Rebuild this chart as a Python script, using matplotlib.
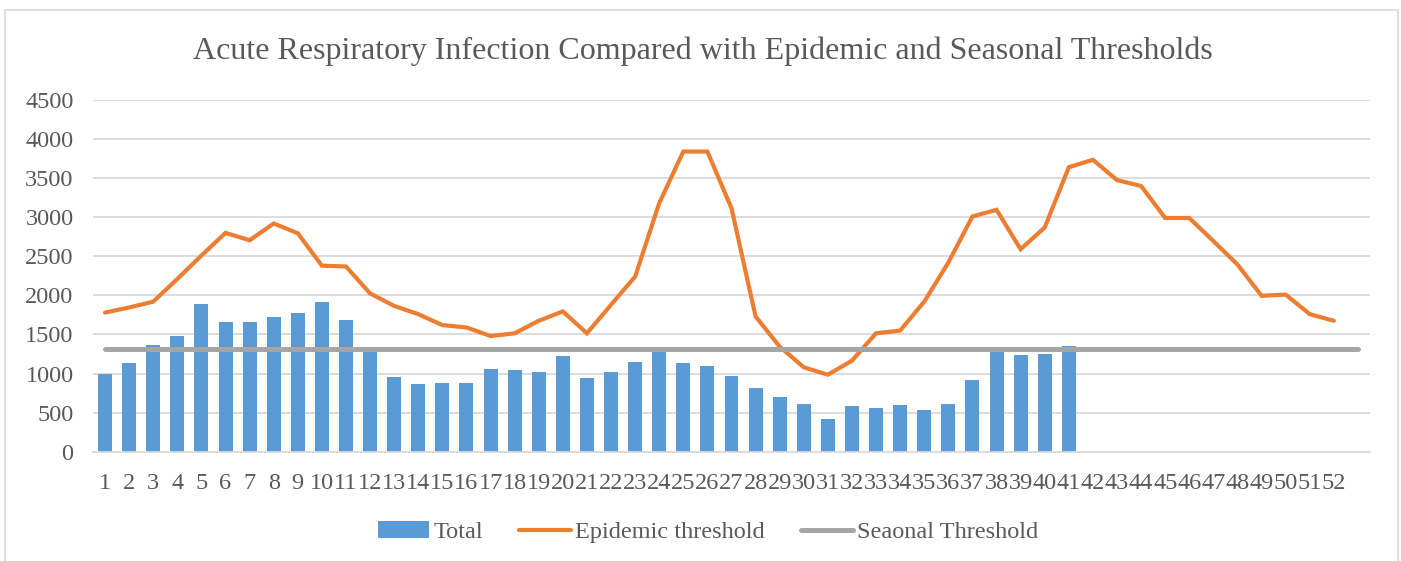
import matplotlib
matplotlib.use("Agg")
import matplotlib.pyplot as plt
from matplotlib.patches import Rectangle

# ---- data ----
weeks = [str(i) for i in range(1, 53)] + [""]
total = [1000, 1130, 1360, 1475, 1895, 1665, 1660, 1725, 1770, 1920,
         1690, 1300, 950, 860, 875, 875, 1060, 1050, 1025, 1225,
         940, 1025, 1145, 1310, 1130, 1095, 965, 820, 700, 615,
         420, 585, 555, 600, 535, 615, 915, 1300, 1235, 1245, 1350]
epidemic = [1780, 1845, 1920, 2210, 2510, 2800, 2705, 2920, 2795, 2380,
            2370, 2025, 1865, 1760, 1620, 1590, 1480, 1515, 1675, 1795,
            1515, 1880, 2240, 3180, 3840, 3840, 3115, 1730, 1345, 1080,
            985, 1165, 1515, 1550, 1920, 2420, 3010, 3095, 2590, 2870,
            3640, 3735, 3475, 3400, 2990, 2990, 2695, 2395, 1995, 2010,
            1760, 1675]
seasonal = [1310] * 53
yticks = [0, 500, 1000, 1500, 2000, 2500, 3000, 3500, 4000, 4500]

title = "Acute Respiratory Infection Compared with Epidemic and Seasonal Thresholds"
labels = ["Total", "Epidemic threshold", "Seaonal Threshold"]

# ---- style ----
plt.rcParams['font.family'] = ['Liberation Serif', 'DejaVu Serif']
TXT = "#595959"
BLUE = "#5B9BD5"
ORANGE = "#ED7D31"
GRAY = "#A5A5A5"
GRID = "#D9D9D9"

fig = plt.figure(figsize=(14.01, 5.61), dpi=100)
fig.patches.append(Rectangle((5 / 1401, -0.1), 1393 / 1401, 1 - 10 / 561 + 0.1,
                             transform=fig.transFigure, fill=False,
                             edgecolor="#D9D9D9", linewidth=1.2, zorder=0))

ax = fig.add_axes([93 / 1401, 1 - 451.7 / 561, (1370 - 93) / 1401, (451.7 - 100) / 561])

x_tot = list(range(1, len(total) + 1))
x_epi = list(range(1, len(epidemic) + 1))
x_sea = list(range(1, len(seasonal) + 1))

b = ax.bar(x_tot, total, width=0.58, color=BLUE, zorder=2, label=labels[0])
l1, = ax.plot(x_epi, epidemic, color=ORANGE, lw=3.0, solid_capstyle="round",
              solid_joinstyle="miter", zorder=3, label=labels[1])
l2, = ax.plot(x_sea, seasonal, color=GRAY, lw=3.6, solid_capstyle="round",
              zorder=4, label=labels[2])

ax.set_xlim(0.5, 53.5)
ax.set_ylim(0, 4500)
ax.set_yticks(yticks)
ax.set_yticklabels([str(v) for v in yticks])
ax.set_xticks(range(1, 54))
ax.set_xticklabels(weeks)
ax.yaxis.grid(True, color=GRID, lw=1.3, zorder=0)
ax.set_axisbelow(True)
for s in ["top", "right", "left"]:
    ax.spines[s].set_visible(False)
ax.spines["bottom"].set_color(GRID)
ax.spines["bottom"].set_linewidth(1.3)
ax.tick_params(axis="both", length=0, labelsize=17.5, colors=TXT)
ax.tick_params(axis="x", pad=15)
ax.tick_params(axis="y", pad=14)

fig.text(0.502, 1 - 51 / 561, title, ha="center", va="center",
         fontsize=23, color=TXT)

leg = fig.legend(handles=[b, l1, l2], labels=labels, loc="center",
                 bbox_to_anchor=(708 / 1401, 1 - 532 / 561), ncol=3,
                 frameon=False, fontsize=17.5, handlelength=2.1,
                 handletextpad=0.2, columnspacing=1.5, labelcolor=TXT)

fig.savefig("out.png", dpi=100)
